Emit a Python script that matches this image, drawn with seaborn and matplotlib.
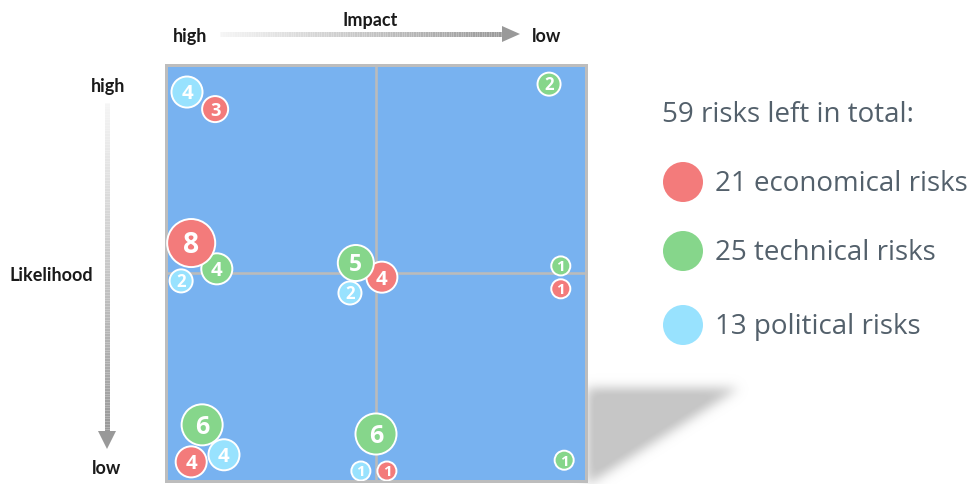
import numpy as np
import pandas as pd
import matplotlib
matplotlib.use("Agg")
import matplotlib.pyplot as plt
from matplotlib.collections import LineCollection
from matplotlib.patches import Circle, Polygon
import seaborn as sns

# ---- risk data: impact (0 = high, 10 = low), likelihood (0 = low, 10 = high) ----
categories = ["economical", "technical", "political"]

econ_impact = [1.17, 0.60, 5.14, 9.40, 0.60, 5.26]
econ_likelihood = [8.94, 5.72, 4.90, 4.62, 0.46, 0.24]
econ_count = [3, 8, 4, 1, 4, 1]

tech_impact = [9.12, 1.21, 4.52, 9.40, 0.86, 5.00, 9.48]
tech_likelihood = [9.54, 5.10, 5.24, 5.17, 1.35, 1.13, 0.50]
tech_count = [2, 4, 5, 1, 6, 6, 1]

pol_impact = [0.50, 0.36, 4.38, 1.38, 4.64]
pol_likelihood = [9.35, 4.81, 4.52, 0.63, 0.24]
pol_count = [4, 2, 2, 4, 1]

# which bubble sits on top where bubbles overlap
tech_layer = [0, 0, 1, 0, 0, 0, 0]

palette = {"economical": "#F37B7B", "technical": "#86D68B", "political": "#98E2FE"}
radius_px = {1: 10.5, 2: 12.5, 3: 14, 4: 16.5, 5: 19, 6: 21.5, 8: 25}
EDGE_LW = 1.4

W, H, DPI = 972, 484, 100

frames = [
    pd.DataFrame({"impact": tech_impact, "likelihood": tech_likelihood,
                  "count": tech_count, "category": "technical", "layer": tech_layer}),
    pd.DataFrame({"impact": pol_impact, "likelihood": pol_likelihood,
                  "count": pol_count, "category": "political", "layer": 0}),
    pd.DataFrame({"impact": econ_impact, "likelihood": econ_likelihood,
                  "count": econ_count, "category": "economical", "layer": 0}),
]
df = pd.concat(frames, ignore_index=True)
df = df.sort_values("layer", kind="stable").reset_index(drop=True)

px_to_pt = 72 / DPI
size_map = {v: (2 * r * px_to_pt - EDGE_LW) ** 2 for v, r in radius_px.items()}

sns.set_theme(style="white")
plt.rcParams["font.family"] = ["Open Sans", "DejaVu Sans"]

fig = plt.figure(figsize=(W / DPI, H / DPI), dpi=DPI)
fig.patch.set_facecolor("white")

# decoration layer in pixel coordinates
deco = fig.add_axes([0, 0, 1, 1], zorder=0)
deco.set_xlim(0, W)
deco.set_ylim(H, 0)
deco.axis("off")

# soft drop shadow at the lower right of the matrix
x0, y0, sw, sh = 560, 350, 230, 150
yy, xx = np.mgrid[0:sh, 0:sw]
X = x0 + xx + 0.5
Y = y0 + yy + 0.5
mask = ((X >= 587) & (Y >= 388) & ((X - 587) / 151 + (Y - 388) / 97 <= 1)).astype(float)
k = np.arange(-18, 19)
g = np.exp(-k ** 2 / (2 * 5.5 ** 2))
g /= g.sum()
blur = np.apply_along_axis(lambda r: np.convolve(r, g, mode="same"), 1, mask)
blur = np.apply_along_axis(lambda c: np.convolve(c, g, mode="same"), 0, blur)
rgba = np.zeros((sh, sw, 4))
rgba[..., :3] = 0.78
rgba[..., 3] = np.clip(blur * 1.1, 0, 1)
deco.imshow(rgba, extent=(x0, x0 + sw, y0 + sh, y0), aspect="auto",
            interpolation="bilinear", zorder=0)
deco.set_xlim(0, W)
deco.set_ylim(H, 0)


def gradient_arrow(ax, start, end, head):
    n = 120
    xs = np.linspace(start[0], end[0], n + 1)
    ys = np.linspace(start[1], end[1], n + 1)
    segs = [[(xs[i], ys[i]), (xs[i + 1], ys[i + 1])] for i in range(n)]
    t = np.linspace(0, 1, n)
    cols = [(0.96 - 0.36 * v, 0.96 - 0.36 * v, 0.96 - 0.36 * v) for v in t]
    ax.add_collection(LineCollection(segs, colors=cols, linewidths=5 * px_to_pt,
                                     capstyle="butt", zorder=2))
    ax.add_patch(Polygon(head, closed=True, facecolor="#999999",
                         edgecolor="none", zorder=2))


gradient_arrow(deco, (220, 34), (503, 34), [(502, 26), (520, 34), (502, 42)])
gradient_arrow(deco, (107, 103), (107, 432), [(98, 431), (116, 431), (107, 449)])

lab = dict(family=["Lato", "DejaVu Sans"], fontweight="bold", fontsize=13,
           color="#1A1A1A", ha="center", va="baseline")
deco.text(370, 26, "Impact", **lab)
deco.text(190, 42, "high", **lab)
deco.text(547, 42, "low", **lab)
deco.text(108, 92, "high", **lab)
deco.text(51, 281, "Likelihood", **lab)
deco.text(107, 474, "low", **lab)

# legend block
totals = {c: int(df.loc[df["category"] == c, "count"].sum()) for c in categories}
leg = dict(fontsize=20, color="#53606B", ha="left", va="baseline")
deco.text(662, 122, f"{sum(totals.values())} risks left in total:", **leg)
for cat, cy in zip(categories, [182, 251, 325]):
    deco.add_patch(Circle((683, cy), 20, facecolor=palette[cat], edgecolor="none"))
    deco.text(715, cy + 9, f"{totals[cat]} {cat} risks", **leg)

# risk matrix
left, right, top, bottom = 166, 586, 65, 481
ax = fig.add_axes([left / W, (H - bottom) / H, (right - left) / W, (bottom - top) / H],
                  zorder=1)
ax.set_facecolor("#78B2F0")
ax.set_xlim(0, 10)
ax.set_ylim(0, 10)
for s in ax.spines.values():
    s.set_color("#BDBDBD")
    s.set_linewidth(3 * px_to_pt)
    s.set_visible(True)
ax.set_xticks([])
ax.set_yticks([])
ax.axvline(5, color="#BBBBBB", lw=2.6 * px_to_pt, zorder=1)
ax.axhline(5, color="#BBBBBB", lw=2.6 * px_to_pt, zorder=1)

sns.scatterplot(data=df, x="impact", y="likelihood", hue="category", palette=palette,
                size="count", sizes=size_map, edgecolor="white", linewidth=EDGE_LW,
                legend=False, ax=ax, zorder=3, alpha=1)
ax.set_xlabel("")
ax.set_ylabel("")

for _, row in df.iterrows():
    r = radius_px[row["count"]]
    fs = 4 + 0.65 * r
    ax.annotate(str(row["count"]), (row["impact"], row["likelihood"]),
                xytext=(0, -0.36 * fs), textcoords="offset points",
                ha="center", va="baseline", fontsize=fs, fontweight="bold",
                color="white", zorder=4)

fig.savefig("out.png", dpi=DPI, facecolor="white")
